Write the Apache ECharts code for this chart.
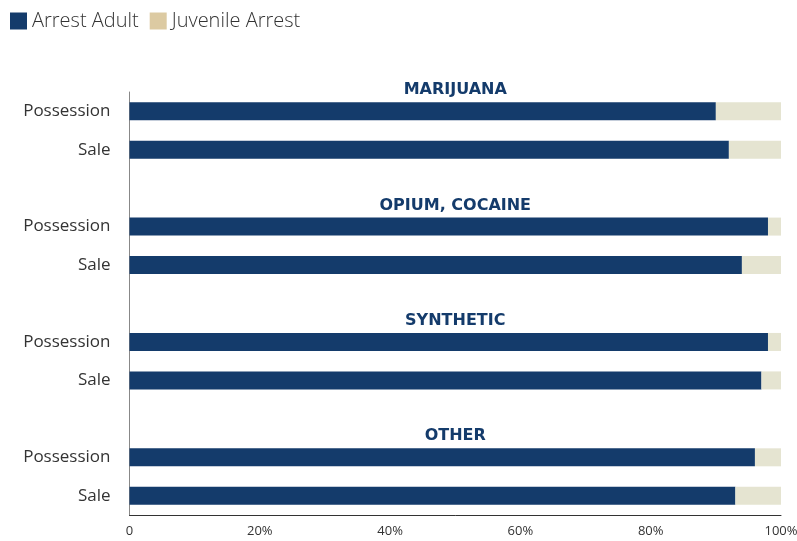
<!DOCTYPE html>
<html>
<head>
<meta charset="utf-8">
<script src="https://cdn.jsdelivr.net/npm/echarts@6/dist/echarts.min.js"></script>
<style>
  html, body { margin: 0; padding: 0; background: #fff; overflow: hidden; }
  #chart { width: 797px; height: 541px; }
</style>
</head>
<body>
<div id="chart"></div>
<script>
// Row labels, top to bottom; empty strings are spacer rows between drug groups
const categories = ['Possession', 'Sale', '', 'Possession', 'Sale', '', 'Possession', 'Sale', '', 'Possession', 'Sale'];
// Group headings, one per Possession/Sale pair
const groups = ['MARIJUANA', 'OPIUM, COCAINE', 'SYNTHETIC', 'OTHER'];
// Share of arrests (%)
const adult    = [90, 92, null, 98, 94, null, 98, 97, null, 96, 93];
const juvenile = [10,  8, null,  2,  6, null,  2,  3, null,  4,  7];
const xTicks = [0, 20, 40, 60, 80, 100];

const NAVY = '#143b6b';
const BEIGE = '#e5e4d1';
const TAN = '#dccaa2';
const FONT = '"Open Sans", Lato, sans-serif';

// Heading carrier: one full-width invisible bar on each group's first row
let g = 0;
const headerData = categories.map(c => {
  if (c === 'Possession') {
    return { value: 100, name: groups[g++] };
  }
  return null;
});

const chart = echarts.init(document.getElementById('chart'));
chart.setOption({
  animation: false,
  legend: {
    left: 5,
    top: 6,
    itemWidth: 17,
    itemHeight: 17,
    itemGap: 11,
    icon: 'rect',
    textStyle: { fontFamily: FONT, fontSize: 20, fontWeight: 300, color: '#333' },
    data: [
      { name: 'Arrest Adult', itemStyle: { color: NAVY } },
      { name: 'Juvenile Arrest', itemStyle: { color: TAN } }
    ]
  },
  grid: { left: 129.5, right: 16, top: 92, bottom: 26, containLabel: false, outerBoundsMode: 'none' },
  xAxis: {
    type: 'value',
    min: xTicks[0],
    max: xTicks[xTicks.length - 1],
    interval: 20,
    splitLine: { show: false },
    axisTick: { show: false },
    axisLine: { show: true, lineStyle: { color: '#333', width: 1 } },
    axisLabel: {
      margin: 10,
      fontFamily: FONT,
      fontSize: 13,
      color: '#333',
      formatter: v => (v === 0 ? '0' : v + '%')
    }
  },
  yAxis: {
    type: 'category',
    inverse: true,
    data: categories,
    axisTick: { show: false },
    axisLine: { show: true, lineStyle: { color: '#888', width: 1 } },
    axisLabel: { margin: 19, fontFamily: FONT, fontSize: 17, color: '#333' }
  },
  series: [
    {
      name: 'Arrest Adult',
      type: 'bar',
      stack: 'share',
      barWidth: 18,
      itemStyle: { color: NAVY },
      data: adult
    },
    {
      name: 'Juvenile Arrest',
      type: 'bar',
      stack: 'share',
      barWidth: 18,
      itemStyle: { color: BEIGE },
      data: juvenile
    },
    {
      name: 'heading',
      type: 'bar',
      barWidth: 18,
      barGap: '-100%',
      silent: true,
      itemStyle: { color: 'rgba(0,0,0,0)' },
      label: {
        show: true,
        position: 'top',
        distance: 4,
        formatter: p => p.name,
        fontFamily: '"DejaVu Sans", sans-serif',
        fontWeight: 'bold',
        fontSize: 16,
        color: NAVY
      },
      data: headerData
    }
  ]
});
</script>
</body>
</html>
